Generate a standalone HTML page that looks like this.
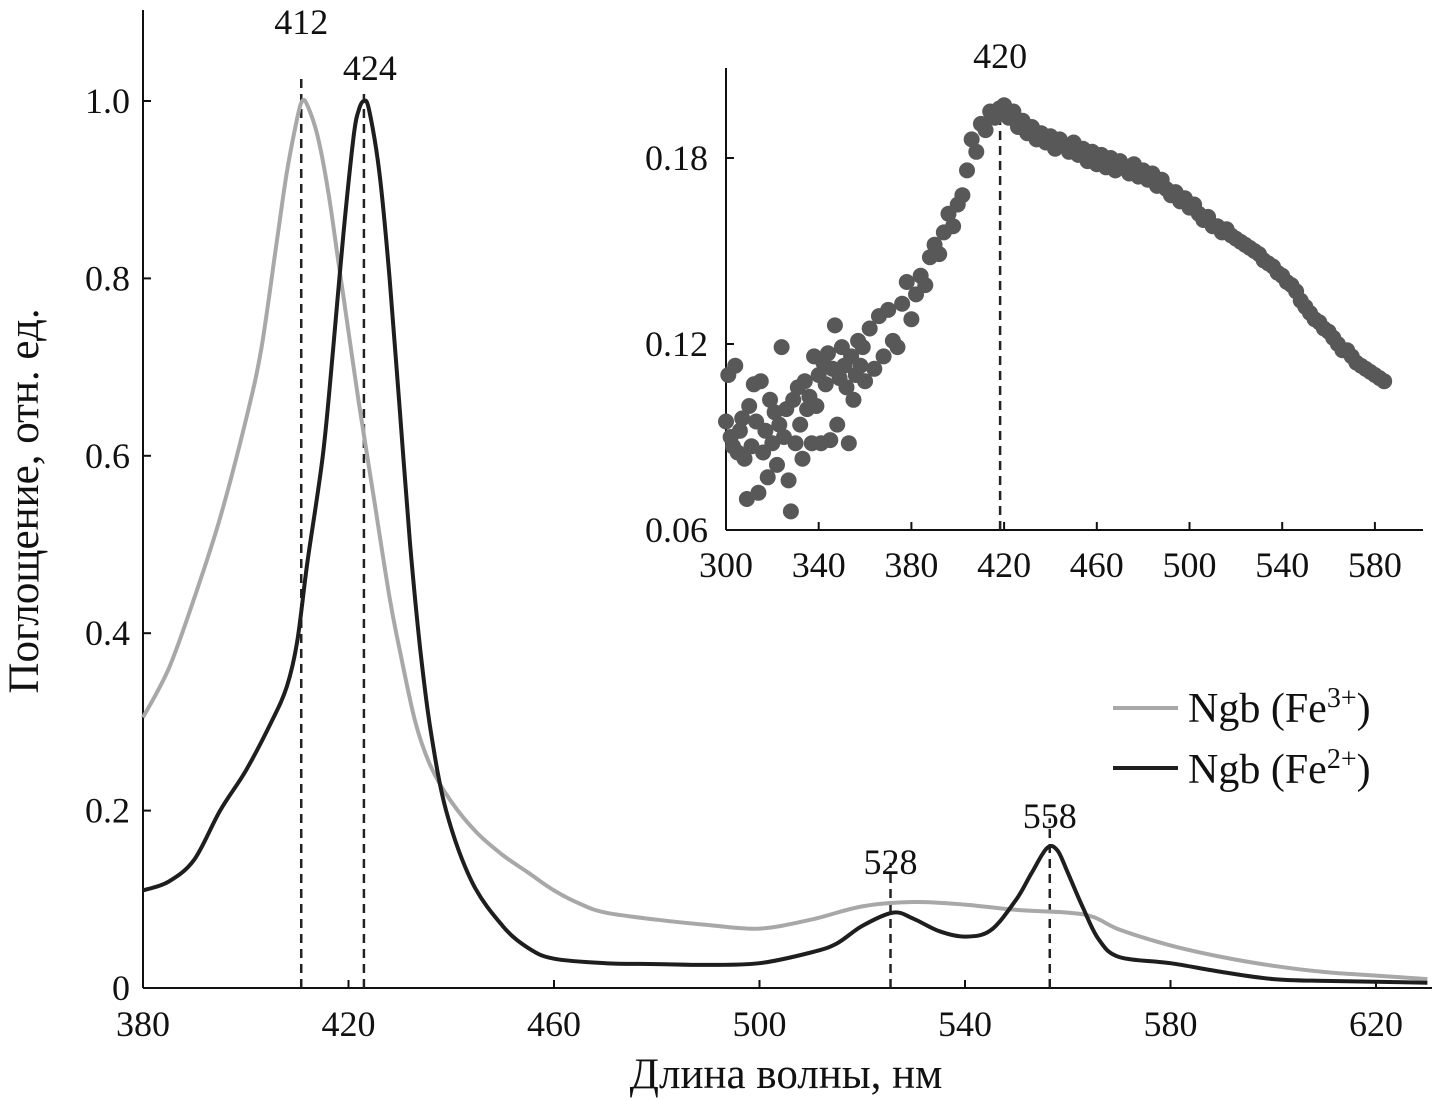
<!DOCTYPE html>
<html><head><meta charset="utf-8"><style>
body{margin:0;background:#fff;}
svg{display:block;font-family:"Liberation Serif",serif;}
</style></head><body>
<svg id="c" width="1438" height="1100"></svg>
<script>
const grayX=[380,385,390,395,400,403,406,408,410,411,412,414,416,418,420,422,425,428,430,433,436,440,445,450,455,460,465,470,480,490,500,510,520,530,540,550,560,565,570,580,590,600,610,620,630];
const grayY=[0.305,0.36,0.44,0.53,0.64,0.72,0.84,0.92,0.98,1.0,0.995,0.96,0.9,0.82,0.74,0.66,0.55,0.44,0.38,0.3,0.25,0.21,0.175,0.15,0.13,0.11,0.095,0.085,0.077,0.071,0.067,0.077,0.092,0.097,0.094,0.088,0.085,0.08,0.066,0.048,0.035,0.025,0.018,0.014,0.01];
const blackX=[380,385,390,395,400,405,408,410,412,415,417,419,421,422,423,424,426,428,430,432,434,436,439,444,450,455,460,470,480,490,500,510,515,520,526,530,535,540,545,550,553,556,558,560,563,566,570,580,590,600,610,620,630];
const blackY=[0.11,0.12,0.145,0.2,0.245,0.3,0.34,0.39,0.48,0.6,0.72,0.85,0.96,0.99,1.0,0.99,0.92,0.8,0.65,0.5,0.38,0.29,0.2,0.12,0.07,0.045,0.033,0.028,0.027,0.026,0.028,0.04,0.05,0.07,0.085,0.078,0.064,0.058,0.065,0.1,0.13,0.158,0.155,0.13,0.09,0.055,0.035,0.028,0.018,0.01,0.008,0.007,0.006];
const peakPos=[410.8,423,525.5,556.5];
const peakLabels=["412","424","528","558"];
const peakTop=[1.03,1.0,0.13,0.18];
const xTicks=[380,420,460,500,540,580,620];
const yTicks=[0,0.2,0.4,0.6,0.8,1.0];
const yTickLabels=["0","0.2","0.4","0.6","0.8","1.0"];
const insX=[300,301,302,303,304,305,306,307,308,309,310,311,312,313,314,315,316,317,318,319,320,321,322,323,324,325,326,327,328,329,330,331,332,333,334,335,336,337,338,339,340,341,342,343,344,345,346,347,348,349,350,351,352,353,354,355,356,357,358,359,360,362,364,366,368,370,372,374,376,378,380,382,384,386,388,390,392,394,396,398,400,402,404,406,408,410,412,414,416,418,420,422,424,426,428,430,432,434,436,438,440,442,444,446,448,450,452,454,456,458,460,462,464,466,468,470,472,474,476,478,480,482,484,486,488,490,492,494,496,498,500,502,504,506,508,510,512,514,516,518,520,522,524,526,528,530,532,534,536,538,540,542,544,546,548,550,552,554,556,558,560,562,564,566,568,570,572,574,576,578,580,582,584];
const insY=[.095,.110,.090,.087,.113,.085,.092,.096,.083,.070,.100,.087,.107,.095,.072,.108,.085,.092,.077,.102,.088,.098,.081,.094,.119,.090,.099,.076,.066,.102,.088,.106,.094,.083,.108,.099,.103,.088,.116,.100,.110,.088,.114,.107,.117,.089,.112,.126,.094,.109,.119,.113,.106,.088,.116,.102,.110,.121,.113,.119,.108,.125,.112,.129,.116,.131,.121,.119,.133,.140,.128,.136,.142,.139,.148,.152,.149,.156,.162,.158,.165,.168,.176,.186,.182,.191,.189,.195,.193,.196,.197,.193,.195,.190,.192,.188,.190,.186,.188,.185,.187,.183,.186,.184,.182,.185,.181,.183,.179,.182,.178,.181,.177,.180,.176,.179,.177,.175,.178,.174,.176,.173,.175,.171,.173,.170,.168,.169,.166,.167,.164,.165,.162,.160,.161,.158,.158,.156,.157,.155,.154,.153,.152,.151,.150,.149,.147,.146,.145,.143,.142,.140,.139,.137,.134,.132,.130,.128,.127,.125,.124,.122,.120,.118,.118,.116,.114,.113,.112,.111,.110,.109,.108];
const insXTicks=[300,340,380,420,460,500,540,580];
const insYTicks=[0.06,0.12,0.18];
const insYTickLabels=["0.06","0.12","0.18"];
const insPeak=420;

const NS="http://www.w3.org/2000/svg";
const svg=document.getElementById('c');
function mk(t,a,p){const e=document.createElementNS(NS,t);for(const k in a)e.setAttribute(k,a[k]);(p||svg).appendChild(e);return e;}
const X=v=>143+(v-380)*205.5/40, Y=v=>988-v*887;
const IX=v=>726+(v-300)*92.7/40, IY=v=>530-(v-0.06)*3100;
const TF=36;
let e=mk('line',{x1:143,y1:10,x2:143,y2:988,stroke:'#111','stroke-width':2});

e=mk('line',{x1:143,y1:988,x2:1432,y2:988,stroke:'#111','stroke-width':2});

xTicks.forEach(v=>{mk('line',{x1:X(v),y1:988,x2:X(v),y2:980,stroke:'#111','stroke-width':2});
 e=mk('text',{x:X(v),y:1036,'font-size':TF,'text-anchor':'middle',fill:'#111'});e.textContent=v;
 });
yTicks.forEach((v,i)=>{mk('line',{x1:143,y1:Y(v),x2:151,y2:Y(v),stroke:'#111','stroke-width':2});
 e=mk('text',{x:130,y:Y(v)+12,'font-size':TF,'text-anchor':'end',fill:'#111'});e.textContent=yTickLabels[i];
 });
e=mk('text',{x:786,y:1088,'font-size':43,'text-anchor':'middle',fill:'#111'});e.textContent='Длина волны, нм';

e=mk('text',{x:0,y:0,'font-size':43,'text-anchor':'middle',fill:'#111',transform:'translate(38,501) rotate(-90)'});e.textContent='Поглощение, отн. ед.';

peakPos.forEach((p,i)=>{e=mk('line',{x1:X(p),y1:988,x2:X(p),y2:Y(peakTop[i])-(i==0?0:10),stroke:'#222','stroke-width':2.5,'stroke-dasharray':'9,6'});
 });
const lblY=[34,80,874,828];
peakPos.forEach((p,i)=>{e=mk('text',{x:X(p)+(i==1?6:0),y:lblY[i],'font-size':TF,'text-anchor':'middle',fill:'#111'});e.textContent=peakLabels[i];
 });
function path(xs,ys){
 const p=xs.map((v,i)=>[X(v),Y(ys[i])]);let d='M'+p[0][0].toFixed(1)+','+p[0][1].toFixed(1);
 for(let i=0;i<p.length-1;i++){const a=p[Math.max(i-1,0)],b=p[i],c=p[i+1],n=p[Math.min(i+2,p.length-1)];
  const c1=[b[0]+(c[0]-a[0])/6,b[1]+(c[1]-a[1])/6],c2=[c[0]-(n[0]-b[0])/6,c[1]-(n[1]-b[1])/6];
  d+='C'+c1.map(z=>z.toFixed(1))+' '+c2.map(z=>z.toFixed(1))+' '+c.map(z=>z.toFixed(1));}
 return d;}
e=mk('path',{d:path(grayX,grayY),fill:'none',stroke:'#a8a8a8','stroke-width':4,'stroke-linejoin':'round'});

e=mk('path',{d:path(blackX,blackY),fill:'none',stroke:'#1e1e1e','stroke-width':4,'stroke-linejoin':'round'});

e=mk('line',{x1:1113,y1:708,x2:1178,y2:708,stroke:'#a8a8a8','stroke-width':4});

e=mk('text',{x:1188,y:722,'font-size':42,fill:'#111'});e.innerHTML='Ngb (Fe<tspan dy="-15" font-size="28">3+</tspan><tspan dy="15">)</tspan>';

e=mk('line',{x1:1113,y1:768,x2:1178,y2:768,stroke:'#1e1e1e','stroke-width':4});

e=mk('text',{x:1188,y:783,'font-size':42,fill:'#111'});e.innerHTML='Ngb (Fe<tspan dy="-15" font-size="28">2+</tspan><tspan dy="15">)</tspan>';

e=mk('line',{x1:726,y1:68,x2:726,y2:530,stroke:'#111','stroke-width':2});

e=mk('line',{x1:726,y1:530,x2:1423,y2:530,stroke:'#111','stroke-width':2});

insXTicks.forEach(v=>{mk('line',{x1:IX(v),y1:530,x2:IX(v),y2:522,stroke:'#111','stroke-width':2});
 e=mk('text',{x:IX(v),y:577,'font-size':TF,'text-anchor':'middle',fill:'#111'});e.textContent=v;
 });
insYTicks.forEach((v,i)=>{mk('line',{x1:726,y1:IY(v),x2:734,y2:IY(v),stroke:'#111','stroke-width':2});
 e=mk('text',{x:708,y:IY(v)+12,'font-size':TF,'text-anchor':'end',fill:'#111'});e.textContent=insYTickLabels[i];
 });
e=mk('line',{x1:IX(insPeak)-4,y1:530,x2:IX(insPeak)-4,y2:95,stroke:'#222','stroke-width':2.5,'stroke-dasharray':'9,6'});

e=mk('text',{x:IX(insPeak)-4,y:68,'font-size':TF,'text-anchor':'middle',fill:'#111'});e.textContent='420';

insX.forEach((v,i)=>{e=mk('circle',{cx:IX(v),cy:IY(insY[i]),r:8,fill:'#585858'});
 });
</script>
</body></html>
